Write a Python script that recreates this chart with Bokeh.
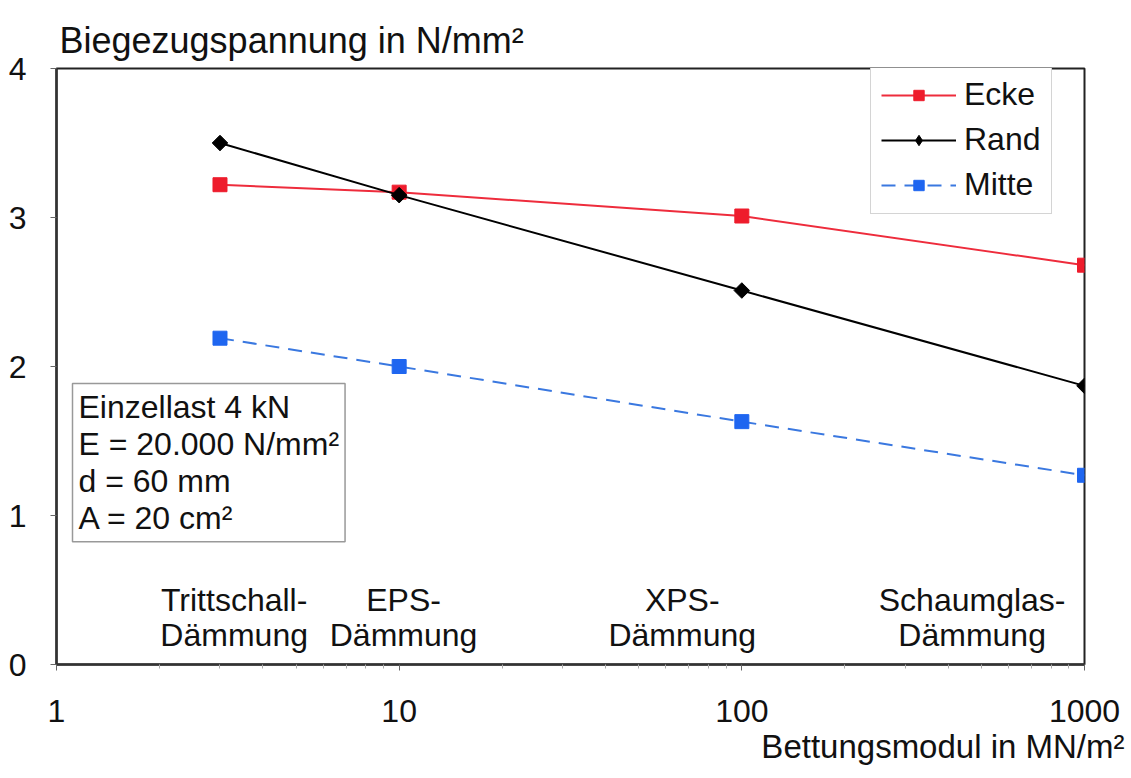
import math
from bokeh.plotting import figure
from bokeh.models import Label, Legend, LegendItem, FixedTicker, BasicTickFormatter, Range1d, Title
from bokeh.embed import file_html
from bokeh.resources import INLINE

# ---- data ----
modulus = [3, 10, 100, 1000]
ecke = [3.22, 3.17, 3.01, 2.68]
rand = [3.50, 3.15, 2.51, 1.87]
mitte = [2.19, 2.00, 1.63, 1.27]
x_ticks = [1, 10, 100, 1000]
y_ticks = [0, 1, 2, 3, 4]
materials = ["Trittschall-\nDämmung", "EPS-\nDämmung", "XPS-\nDämmung", "Schaumglas-\nDämmung"]
material_x = [3.3, 10.3, 67, 470]
info_text = "Einzellast 4 kN\nE = 20.000 N/mm²\nd = 60 mm\nA = 20 cm²"

FONT = "Liberation Sans"
FS = "32px"
TXT = "#111111"

p = figure(width=1130, height=777, x_axis_type="log", output_backend="svg",
           toolbar_location=None, x_range=Range1d(1, 1000), y_range=Range1d(0, 4),
           min_border_left=56, min_border_right=46, min_border_top=68, min_border_bottom=113)

p.title.text = "Biegezugspannung in N/mm²"
p.title.text_font = FONT
p.title.text_font_size = "36px"
p.title.text_color = TXT
p.title.text_font_style = "normal"
p.title.align = "left"
p.title.vertical_align = "top"
p.title.text_line_height = 1.5
p.title.offset = 3
p.title.standoff = 12

xlab = Title(text="Bettungsmodul in MN/m²", align="right", offset=-40, standoff=3,
             text_font=FONT, text_font_size="33px", text_color=TXT, text_font_style="normal")
p.add_layout(xlab, "below")

p.grid.visible = False
p.outline_line_color = "#222222"
p.outline_line_width = 2
p.background_fill_color = "white"
p.border_fill_color = "white"

# axes
p.xaxis.ticker = FixedTicker(ticks=x_ticks,
                             minor_ticks=[2, 3, 4, 5, 6, 7, 8, 9, 20, 30, 40, 50, 60, 70, 80, 90,
                                          200, 300, 400, 500, 600, 700, 800, 900])
p.xaxis.formatter = BasicTickFormatter(use_scientific=False)
p.yaxis.ticker = FixedTicker(ticks=y_ticks)
for ax in (p.xaxis, p.yaxis):
    ax.axis_line_color = "#333333"
    ax.axis_line_width = 2.5
    ax.major_label_text_font = FONT
    ax.major_label_text_font_size = FS
    ax.major_label_text_color = TXT
    ax.major_tick_line_color = "#666666"
    ax.minor_tick_line_color = "#aaaaaa"
    ax.major_tick_in = 0
    ax.minor_tick_in = 0
p.xaxis.major_tick_out = 6
p.xaxis.minor_tick_out = 4
p.xaxis.major_label_standoff = 29
p.yaxis.major_tick_out = 6
p.yaxis.minor_tick_out = 0
p.yaxis.major_label_standoff = 24

# series
r_ecke_l = p.line(modulus, ecke, line_color="#ee2c3c", line_width=2)
r_ecke_m = p.scatter(modulus, ecke, marker="square", size=14, fill_color="#ee1c2c", line_color="#ee1c2c")
r_rand_l = p.line(modulus, rand, line_color="black", line_width=2)
r_rand_m = p.scatter(modulus, rand, marker="square", size=11, angle=math.pi / 4,
                     fill_color="black", line_color="black")
# legend-only diamond (point lies outside the visible y range)
r_rand_leg = p.scatter(x=modulus[:1], y=[-10], marker="diamond", size=20,
                       fill_color="black", line_color="black")
r_mitte_l = p.line(modulus, mitte, line_color="#3a78e0", line_width=2, line_dash="14 9")
r_mitte_m = p.scatter(modulus, mitte, marker="square", size=14, fill_color="#1f66f0", line_color="#1f66f0")

legend = Legend(items=[
    LegendItem(label="Ecke", renderers=[r_ecke_l, r_ecke_m]),
    LegendItem(label="Rand", renderers=[r_rand_l, r_rand_leg]),
    LegendItem(label="Mitte", renderers=[r_mitte_l, r_mitte_m]),
], location=(814, 450))
legend.label_text_font = FONT
legend.label_text_font_size = FS
legend.label_text_color = TXT
legend.glyph_width = 75
legend.glyph_height = 26
legend.label_height = 26
legend.spacing = 8
legend.padding = 10
legend.margin = 0
legend.label_standoff = 8
legend.border_line_color = "#aaaaaa"
legend.border_line_width = 1.5
legend.background_fill_alpha = 1
p.add_layout(legend, "center")

# material labels inside plot
for txt, xm in zip(materials, material_x):
    p.add_layout(Label(x=xm, y=0.315, text=txt, text_align="center", text_baseline="middle",
                       text_font=FONT, text_font_size=FS, text_color=TXT,
                       text_line_height=0.95))

# info box
p.add_layout(Label(x=1, y=1.886, x_offset=16, text=info_text, anchor="top_left",
                   text_font=FONT, text_font_size=FS, text_color=TXT,
                   text_line_height=1.02, padding=6,
                   border_line_color="#999999", border_line_width=1.5,
                   background_fill_color="white"))

open("out.html", "w").write(file_html(p, INLINE))
